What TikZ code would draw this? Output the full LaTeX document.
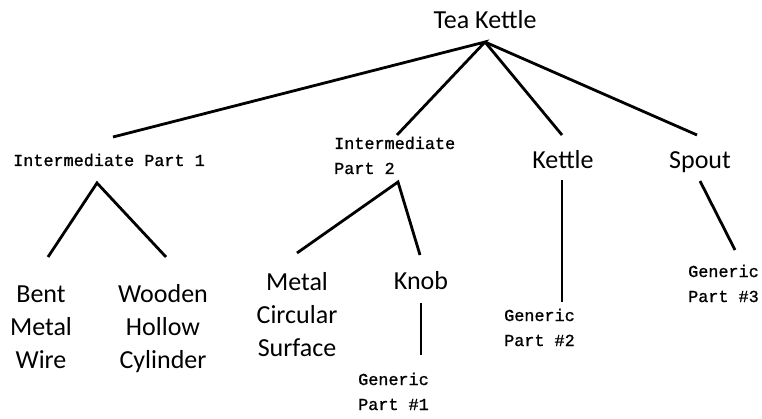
\documentclass[tikz,border=0pt]{standalone}
\usepackage{fontspec}
\setmainfont{Carlito}
\newfontfamily\partmono[FakeBold=1]{Liberation Mono}
\begin{document}
\begin{tikzpicture}[x=1pt,y=-1pt,
  part/.style={inner sep=0pt,font=\fontsize{26}{33}\selectfont,align=center},
  generic/.style={inner sep=0pt,font=\partmono\fontsize{16.8}{25}\selectfont,align=left},
  link/.style={line width=2.8pt,black}]
\fill[white] (0,0) rectangle (762,419);
\useasboundingbox (0,0) rectangle (762,419);

% labels (base anchor = baseline of the last line)
\node[part,anchor=base] (tea) at (485,29) {Tea Kettle};
\node[generic,anchor=base] (ip1) at (109,166) {Intermediate Part 1};
\node[generic,anchor=base west] (ip2) at (334,174) {Intermediate\\Part 2};
\node[part,anchor=base] (kettle) at (563,169) {Kettle};
\node[part,anchor=base] (spout) at (700,169) {Spout};
\node[part,anchor=base] (bent) at (41,368) {Bent\\Metal\\Wire};
\node[part,anchor=base] (wood) at (163,368) {Wooden\\Hollow\\Cylinder};
\node[part,anchor=base] (metal) at (297,356) {Metal\\Circular\\Surface};
\node[part,anchor=base] (knob) at (421,290) {Knob};
\node[generic,anchor=base west] (g1) at (358,410) {Generic\\Part \#1};
\node[generic,anchor=base west] (g2) at (504,346) {Generic\\Part \#2};
\node[generic,anchor=base west] (g3) at (688,302) {Generic\\Part \#3};

% joints and line ends
\coordinate (tea-j) at (485,42);
\coordinate (ip1-t) at (113,137);
\coordinate (ip2-t) at (397,135);
\coordinate (kettle-t) at (562,135);
\coordinate (spout-t) at (697,135);
\coordinate (ip1-j) at (97,183);
\coordinate (bent-t) at (48,257);
\coordinate (wood-t) at (166,257);
\coordinate (ip2-j) at (398,182);
\coordinate (metal-t) at (297,253);
\coordinate (knob-t) at (420,255);
\coordinate (knob-b) at (421,303);
\coordinate (g1-t) at (421,355);
\coordinate (kettle-b) at (562,180);
\coordinate (g2-t) at (562,302);
\coordinate (spout-b) at (700,181);
\coordinate (g3-t) at (735,250);

% connectors
\draw[link] (ip1-t) -- (tea-j) -- (ip2-t);
\draw[link] (tea-j) -- (kettle-t);
\draw[link] (tea-j) -- (spout-t);
\draw[link] (bent-t) -- (ip1-j) -- (wood-t);
\draw[link] (metal-t) -- (ip2-j) -- (knob-t);
\draw[link] (knob-b) -- (g1-t);
\draw[link] (kettle-b) -- (g2-t);
\draw[link] (spout-b) -- (g3-t);
\end{tikzpicture}
\end{document}
